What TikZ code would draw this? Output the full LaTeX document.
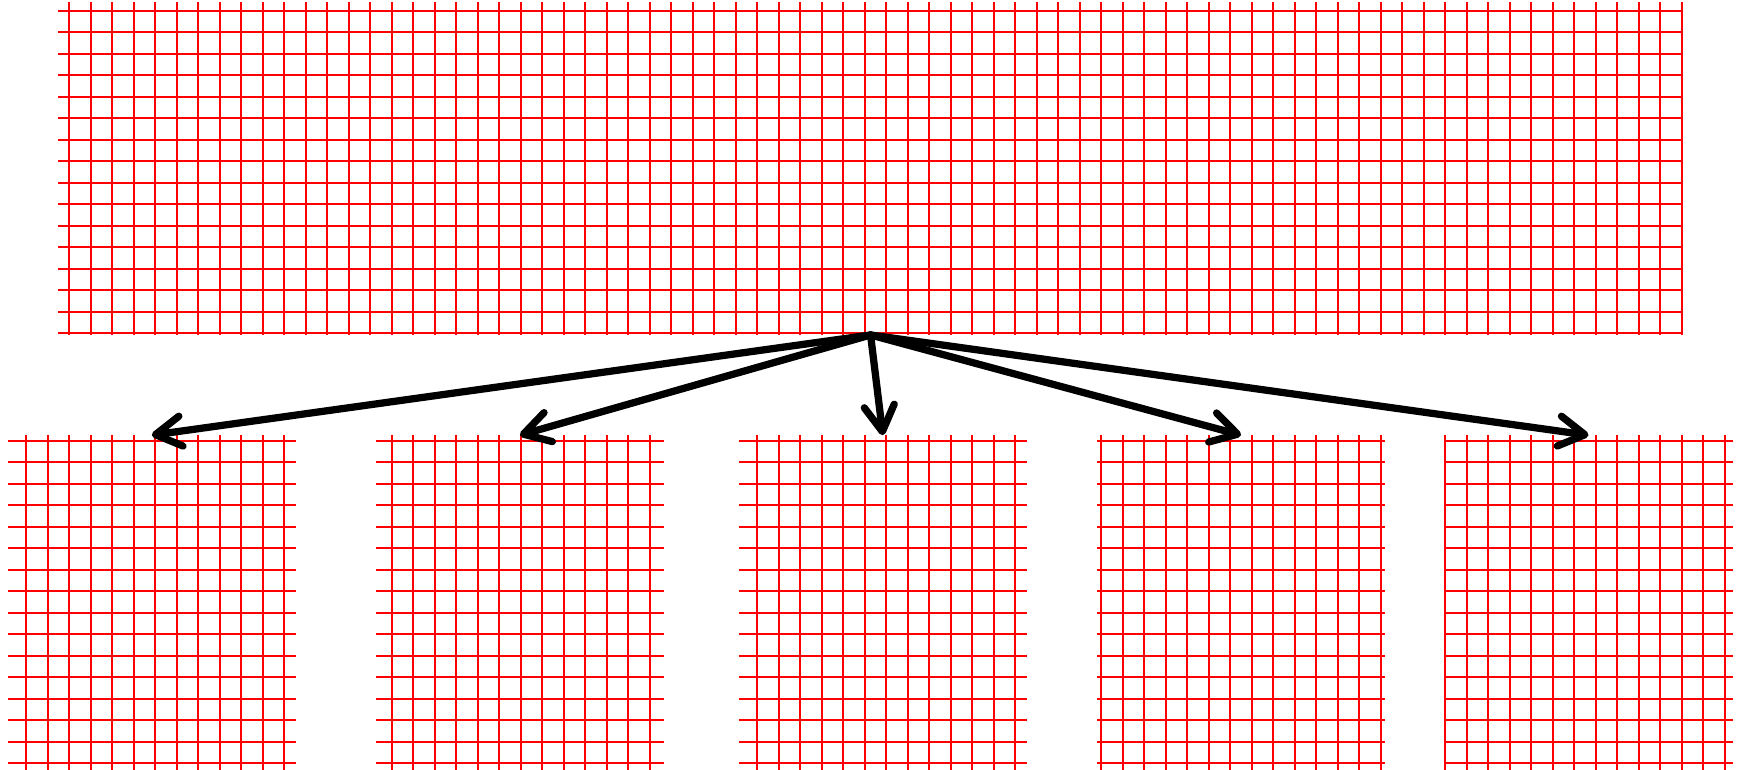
\documentclass[tikz,border=0pt]{standalone}
\usetikzlibrary{arrows.meta}

\begin{document}
\begin{tikzpicture}[>={Straight Barb[length=6mm,width=7mm,round]},
  gridbox/.style={inner sep=0pt,outer sep=0pt,minimum width=6.7cm,minimum height=7.83cm},
  gridline/.style={red,line width=1.5pt,step=0.5}]
\useasboundingbox (-0.11,-0.135) rectangle (40.4,17.75);
\node[gridbox,minimum width=37.79cm,minimum height=7.74cm] (whole) at (20.135,13.83) {};
\draw[gridline] (whole.south west) grid (whole.north east);
\foreach \i/\x in {1/3.42,2/11.98,3/20.42,4/28.75,5/36.83}{
  \node[gridbox] (part\i) at (\x,3.715) {};
  \draw[gridline] (part\i.south west) grid (part\i.north east);
  \draw[->,line width=4.8pt,line cap=round] (whole.south) -- (part\i.north);
}
\end{tikzpicture}
\end{document}
